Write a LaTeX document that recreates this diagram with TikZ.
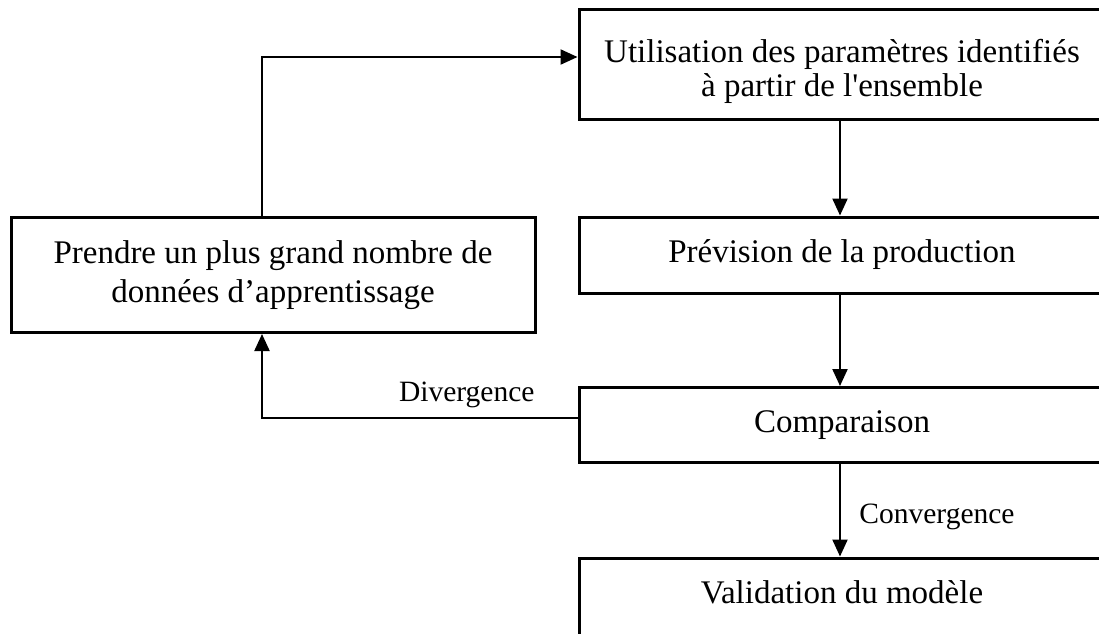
\documentclass[tikz,border=0pt]{standalone}
\usepackage{fontspec}
\setmainfont{Liberation Serif}[Ligatures=TeXOff]
\usetikzlibrary{arrows.meta}

\tikzset{
  box/.style={draw, line width=3pt, rectangle, align=center, font=\fontsize{33}{39}\selectfont},
  lbl/.style={font=\fontsize{29.5}{34}\selectfont},
  flow/.style={line width=2.2pt, -{Triangle[length=17pt,width=15pt]}}
}

\begin{document}
\begin{tikzpicture}[x=1pt, y=-1pt]
\useasboundingbox (0,0) rectangle (1099,633);
\clip (0,0) rectangle (1099,633);
% boxes on the right
\node[box, minimum width=526pt, minimum height=110pt] (util) at (842,64) {};
\node[box, draw=none] at (842,71) {Utilisation des paramètres identifiés\\[-5pt] à partir de l'ensemble};
\node[box, minimum width=526pt, minimum height=76pt] (prev) at (842,255) {Prévision de la production};
\node[box, minimum width=526pt, minimum height=75pt] (comp) at (842,425) {Comparaison};
\node[box, minimum width=526pt, minimum height=110pt] (valid) at (842,613) {};
\node[box, draw=none] at (842,592) {Validation du modèle};
% box on the left
\node[box, minimum width=524pt, minimum height=115pt] (plus) at (273,275) {Prendre un plus grand nombre de\\ données d’apprentissage};
% connectors
\coordinate (top) at (262,57);
\coordinate (div) at (262,418);
\coordinate (mid) at (840,0);
\draw[flow] (util.south -| mid) -- (prev.north -| mid);
\draw[flow] (prev.south -| mid) -- (comp.north -| mid);
\draw[flow] (comp.south -| mid) -- node[lbl, right=15pt, yshift=-7pt] {Convergence} (valid.north -| mid);
\draw[flow] (comp.west |- div) -- (div) -- (plus.south -| div);
\draw[flow] (plus.north -| top) -- (top) -- (util.west |- top);
\node[lbl, anchor=south east] (divlbl) at (538,411) {Divergence};
\end{tikzpicture}
\end{document}
